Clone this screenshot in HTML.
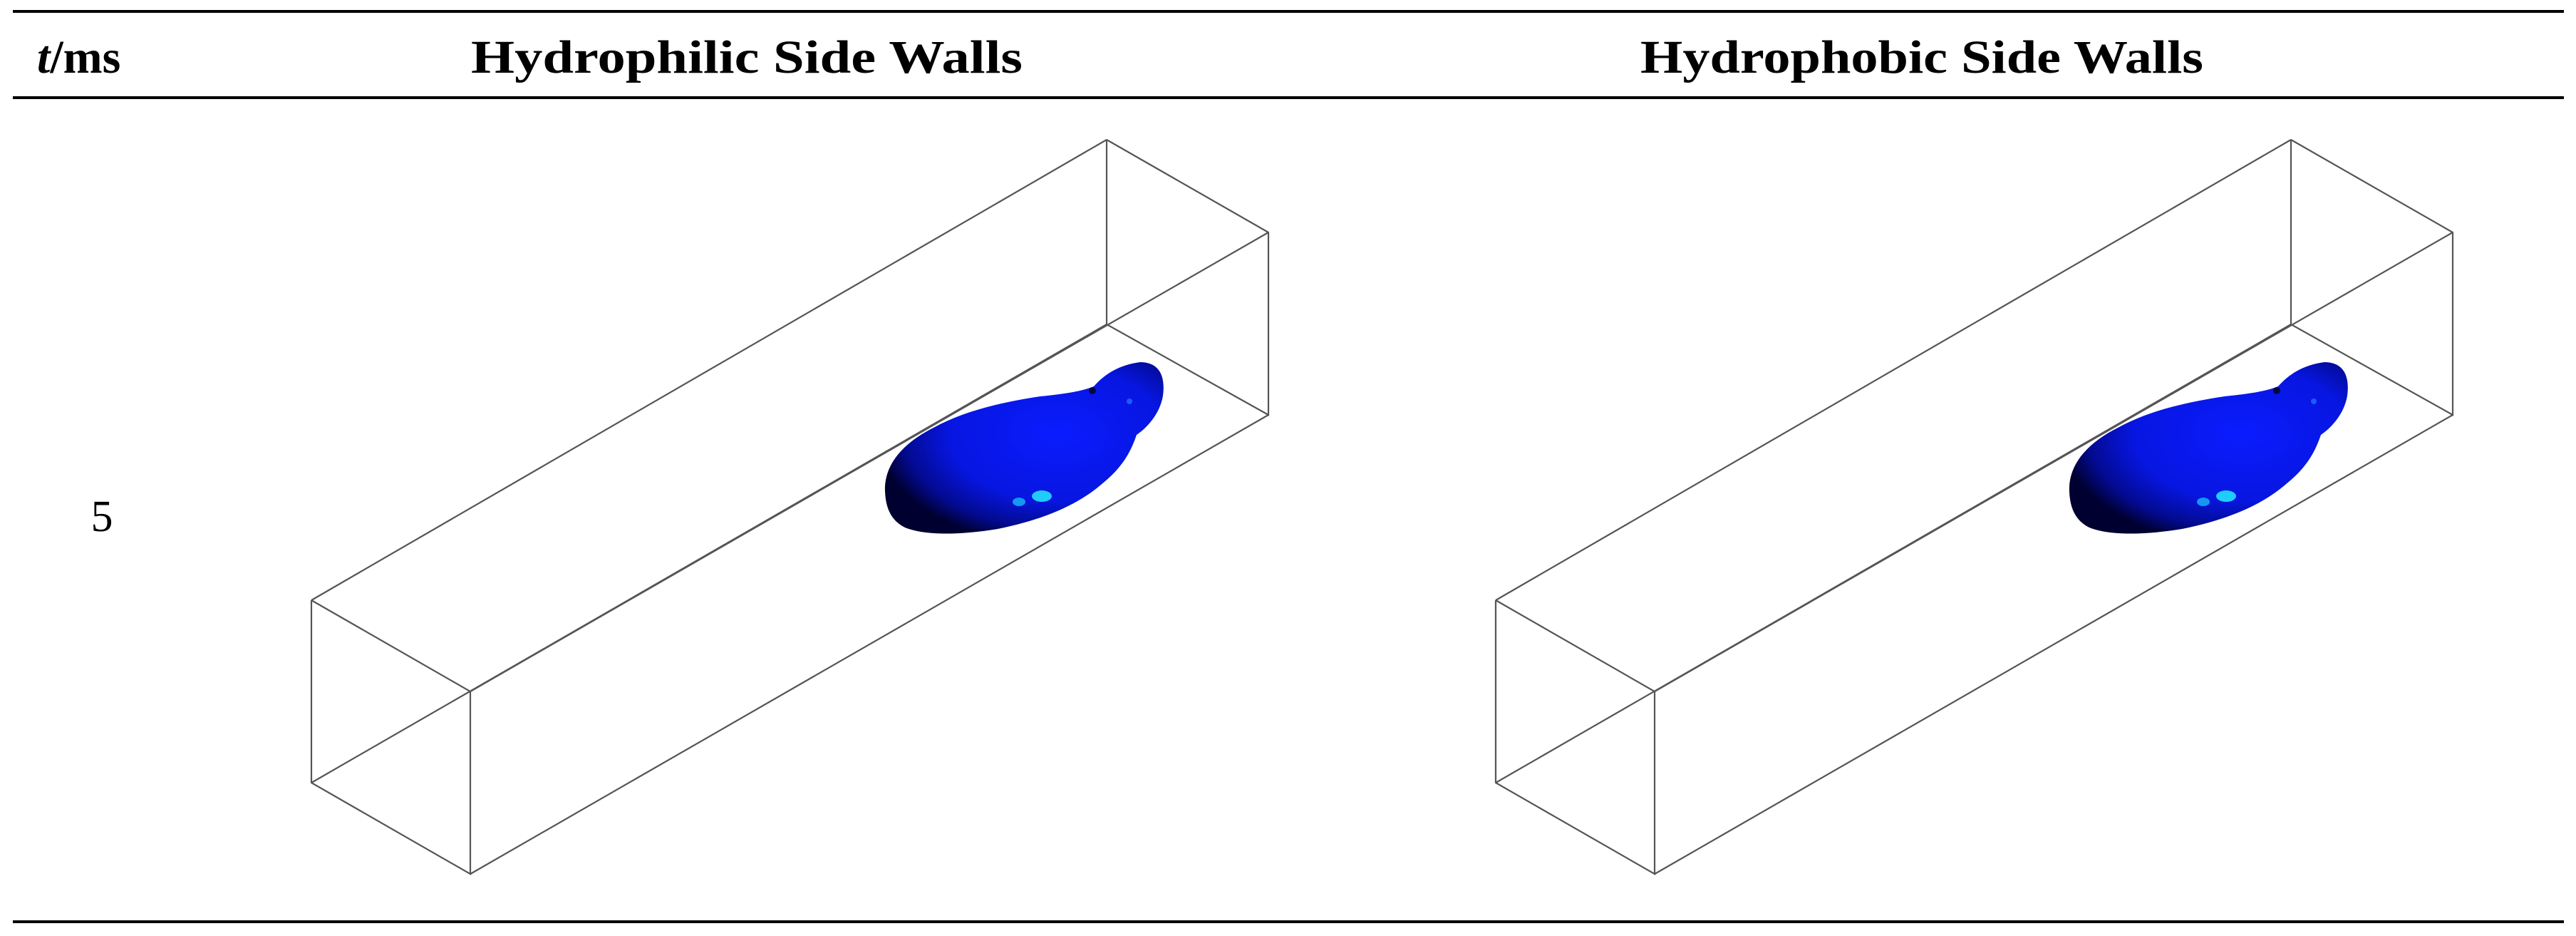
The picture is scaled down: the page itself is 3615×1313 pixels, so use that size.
<!DOCTYPE html>
<html><head><meta charset="utf-8"><style>
html,body{margin:0;padding:0;background:#fff;}
svg{display:block;}
</style></head><body>
<svg width="3615" height="1313" viewBox="0 0 3615 1313" xmlns="http://www.w3.org/2000/svg">
<defs>
<radialGradient id="dg" cx="0.62" cy="0.42" r="0.65">
<stop offset="0" stop-color="#0a1cff"/>
<stop offset="0.6" stop-color="#0716e0"/>
<stop offset="0.85" stop-color="#030a90"/>
<stop offset="1" stop-color="#000030"/>
</radialGradient>
<g id="box" fill="none" stroke="#555" stroke-width="2.2">
<polyline points="437,842 660,970 660,1226 437,1098 437,842"/>
<line x1="437" y1="842" x2="1553" y2="196"/>
<line x1="660" y1="970" x2="1780" y2="326"/>
<line x1="660" y1="1226" x2="1780" y2="582"/>
<line x1="437" y1="1098" x2="1553" y2="455"/>
<polyline points="1553,196 1780,326 1780,582 1553,455 1553,196"/>
</g>
<g id="drop">
<path d="M1242,690 C1240,650 1270,620 1310,600 C1350,578 1400,565 1460,556 C1500,552 1520,548 1535,542 C1550,525 1570,512 1600,508 C1625,508 1636,525 1632,555 C1628,580 1610,600 1595,610 C1585,640 1570,660 1545,680 C1510,710 1460,730 1400,742 C1350,750 1300,752 1270,740 C1250,730 1243,712 1242,690 Z" fill="url(#dg)"/>
<ellipse cx="1462" cy="696" rx="14" ry="8" fill="#22e0ff" opacity="0.9"/>
<ellipse cx="1430" cy="704" rx="9" ry="6" fill="#18b8ff" opacity="0.8"/>
<circle cx="1585" cy="563" r="4" fill="#1a5cff"/>
<circle cx="1533" cy="548" r="5" fill="#000840"/>
</g>
</defs>
<rect width="3615" height="1313" fill="#fff"/>
<rect x="18" y="14" width="3580" height="4" fill="#000"/>
<rect x="18" y="135" width="3580" height="4" fill="#000"/>
<rect x="18" y="1291" width="3580" height="4" fill="#000"/>
<g font-family="'Liberation Serif', serif" font-weight="bold" font-size="66" fill="#000">
<text x="52" y="102"><tspan font-style="italic">t</tspan>/ms</text>
<text x="1048" y="102" text-anchor="middle" textLength="774" lengthAdjust="spacingAndGlyphs">Hydrophilic Side Walls</text>
<text x="2697" y="102" text-anchor="middle" textLength="790" lengthAdjust="spacingAndGlyphs">Hydrophobic Side Walls</text>
</g>
<text x="143" y="745" font-family="'Liberation Serif', serif" font-size="62" text-anchor="middle">5</text>
<use href="#box"/>
<use href="#drop"/>
<g transform="translate(1662,0)">
<use href="#box"/>
<use href="#drop"/>
</g>
</svg>
</body></html>
